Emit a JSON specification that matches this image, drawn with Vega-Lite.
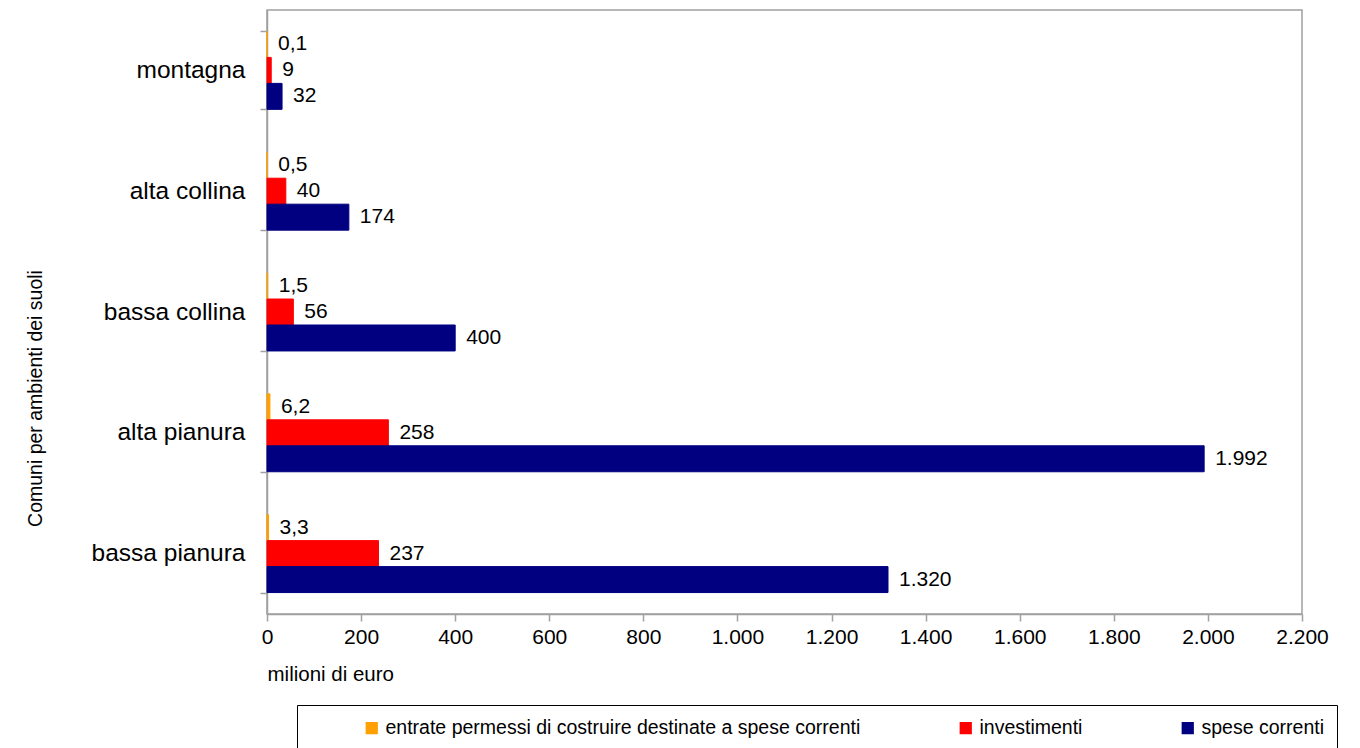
{
  "$schema": "https://vega.github.io/schema/vega-lite/v6.json",
  "width": 1035,
  "height": 604,
  "autosize": {"type": "none"},
  "padding": {"left": 267, "top": 10, "right": 58, "bottom": 134},
  "background": "white",
  "config": {
    "locale": {"number": {"decimal": ",", "thousands": ".", "grouping": [3], "currency": ["€", ""]}},
    "font": "Liberation Sans",
    "view": {"stroke": "#a0a0a0", "strokeWidth": 1.5}
  },
  "data": {
    "values": [
      {"ambiente": "montagna", "serie": "entrate permessi di costruire destinate a spese correnti", "valore": 0.1},
      {"ambiente": "montagna", "serie": "investimenti", "valore": 9},
      {"ambiente": "montagna", "serie": "spese correnti", "valore": 32},
      {"ambiente": "alta collina", "serie": "entrate permessi di costruire destinate a spese correnti", "valore": 0.5},
      {"ambiente": "alta collina", "serie": "investimenti", "valore": 40},
      {"ambiente": "alta collina", "serie": "spese correnti", "valore": 174},
      {"ambiente": "bassa collina", "serie": "entrate permessi di costruire destinate a spese correnti", "valore": 1.5},
      {"ambiente": "bassa collina", "serie": "investimenti", "valore": 56},
      {"ambiente": "bassa collina", "serie": "spese correnti", "valore": 400},
      {"ambiente": "alta pianura", "serie": "entrate permessi di costruire destinate a spese correnti", "valore": 6.2},
      {"ambiente": "alta pianura", "serie": "investimenti", "valore": 258},
      {"ambiente": "alta pianura", "serie": "spese correnti", "valore": 1992},
      {"ambiente": "bassa pianura", "serie": "entrate permessi di costruire destinate a spese correnti", "valore": 3.3},
      {"ambiente": "bassa pianura", "serie": "investimenti", "valore": 237},
      {"ambiente": "bassa pianura", "serie": "spese correnti", "valore": 1320}
    ]
  },
  "encoding": {
    "y": {
      "field": "ambiente",
      "type": "nominal",
      "sort": ["montagna", "alta collina", "bassa collina", "alta pianura", "bassa pianura"],
      "scale": {"paddingInner": 0.355, "paddingOuter": 0.1775},
      "axis": {
        "title": "Comuni  per ambienti dei suoli",
        "titleFontSize": 19.5,
        "titleFontWeight": "normal",
        "titleColor": "black",
        "titleAngle": -90,
        "titleX": -232,
        "titleY": 388,
        "titleAlign": "center",
        "titleBaseline": "middle",
        "labelFontSize": 24.5,
        "labelColor": "black",
        "labelPadding": 15,
        "tickBand": "extent",
        "tickSize": 7,
        "tickColor": "#a0a0a0",
        "tickWidth": 1.5,
        "domainColor": "#a0a0a0",
        "domainWidth": 1.5
      }
    },
    "yOffset": {
      "field": "serie",
      "type": "nominal",
      "sort": ["entrate permessi di costruire destinate a spese correnti", "investimenti", "spese correnti"],
      "scale": {"paddingInner": 0, "paddingOuter": 0}
    },
    "x": {
      "field": "valore",
      "type": "quantitative",
      "scale": {"domain": [0, 2200], "nice": false},
      "axis": {
        "title": "milioni  di euro",
        "titleFontSize": 20.5,
        "titleFontWeight": "normal",
        "titleColor": "black",
        "titleX": 0,
        "titleY": 50,
        "titleAlign": "left",
        "titleBaseline": "top",
        "values": [0, 200, 400, 600, 800, 1000, 1200, 1400, 1600, 1800, 2000, 2200],
        "format": ",d",
        "labelFontSize": 21,
        "labelColor": "black",
        "labelPadding": 5,
        "labelFlush": false,
        "labelOverlap": false,
        "grid": false,
        "tickSize": 7,
        "tickColor": "#a0a0a0",
        "tickWidth": 1.5,
        "domainColor": "#a0a0a0",
        "domainWidth": 1.5
      }
    }
  },
  "layer": [
    {
      "mark": {"type": "bar", "strokeWidth": 1},
      "encoding": {
        "color": {
          "field": "serie",
          "type": "nominal",
          "scale": {
            "domain": ["entrate permessi di costruire destinate a spese correnti", "investimenti", "spese correnti"],
            "range": ["#FFA000", "#FF0000", "#000080"]
          },
          "legend": {
            "title": " ",
            "titleOrient": "left",
            "titlePadding": 52,
            "titleFontSize": 10,
            "orient": "none",
            "legendX": 30,
            "legendY": 695,
            "direction": "horizontal",
            "symbolType": "square",
            "symbolSize": 150,
            "symbolStrokeWidth": 0,
            "labelFontSize": 19.5,
            "labelColor": "black",
            "labelLimit": 700,
            "labelOffset": 4,
            "columnPadding": 95,
            "padding": 13,
            "strokeColor": "black",
            "fillColor": "white"
          }
        },
        "stroke": {
          "field": "serie",
          "type": "nominal",
          "scale": {
            "domain": ["entrate permessi di costruire destinate a spese correnti", "investimenti", "spese correnti"],
            "range": ["#FFA000", "#FF0000", "#000080"]
          },
          "legend": null
        }
      }
    },
    {
      "mark": {"type": "text", "align": "left", "baseline": "middle", "dx": 11, "fontSize": 21, "color": "black"},
      "encoding": {
        "text": {"field": "valore", "type": "quantitative", "format": ",~g"}
      }
    }
  ]
}
